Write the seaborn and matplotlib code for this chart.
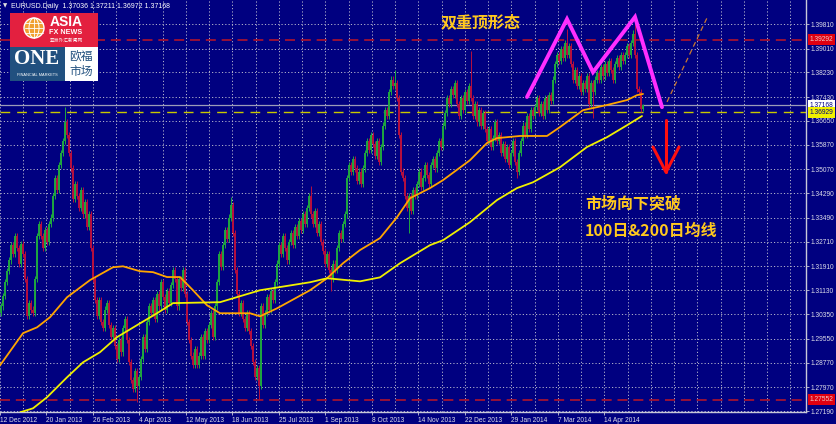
import numpy as np
import pandas as pd
import matplotlib
matplotlib.use("Agg")
import matplotlib.pyplot as plt
import seaborn as sns
from matplotlib.patches import Rectangle, Ellipse

# ---------------- data ----------------
closes = [
    1.3060, 1.3095, 1.3140, 1.3175,
    1.3210, 1.3260, 1.3230, 1.3290, 1.3250, 1.3200, 1.3265, 1.3230,
    1.3150, 1.3030, 1.3070, 1.3050, 1.3040,
    1.3150, 1.3290, 1.3330, 1.3290, 1.3250, 1.3310, 1.3270, 1.3330, 1.3350,
    1.3420, 1.3480, 1.3440, 1.3520, 1.3560, 1.3600, 1.3660,
    1.3620, 1.3560, 1.3510, 1.3410, 1.3460,
    1.3420, 1.3380, 1.3440, 1.3360, 1.3400, 1.3320, 1.3360,
    1.3250, 1.3150, 1.3080,
    1.3030, 1.3080, 1.3010, 1.2990, 1.3050, 1.3070, 1.3000, 1.2960, 1.2990,
    1.2930, 1.2890, 1.2950, 1.2910, 1.2990, 1.3020, 1.2950,
    1.2880, 1.2820, 1.2790, 1.2850, 1.2800, 1.2830,
    1.2890, 1.2960, 1.2920, 1.3010, 1.3060, 1.3040, 1.3080,
    1.3020, 1.3100, 1.3060, 1.3140, 1.3090, 1.3050, 1.3110, 1.3070,
    1.3130, 1.3180, 1.3150, 1.3060, 1.3150, 1.3120, 1.3180, 1.3100,
    1.3010, 1.2950, 1.2900, 1.2870, 1.2920, 1.2870, 1.2900,
    1.2960, 1.2900, 1.2980, 1.2950, 1.3000, 1.3040, 1.2960, 1.3060,
    1.3140, 1.3230, 1.3190, 1.3260, 1.3310, 1.3280, 1.3350, 1.3390,
    1.3300, 1.3180, 1.3100, 1.3040, 1.3070,
    1.3020, 1.2990, 1.3040, 1.2980, 1.2930, 1.2880, 1.2830, 1.2860, 1.2800,
    1.3060, 1.3000, 1.3040, 1.3090, 1.3050, 1.3110, 1.3080, 1.3140,
    1.3200, 1.3260, 1.3230, 1.3290, 1.3250, 1.3210, 1.3270, 1.3300, 1.3260, 1.3320,
    1.3290, 1.3340, 1.3310, 1.3360, 1.3330, 1.3380, 1.3420, 1.3360,
    1.3330, 1.3370, 1.3300, 1.3330, 1.3270, 1.3240, 1.3200, 1.3230, 1.3180,
    1.3150, 1.3200, 1.3180, 1.3250, 1.3300, 1.3280, 1.3330, 1.3360,
    1.3480, 1.3520, 1.3500, 1.3540, 1.3510, 1.3470, 1.3500, 1.3460,
    1.3510, 1.3560, 1.3600, 1.3570, 1.3620, 1.3590, 1.3550, 1.3600, 1.3530, 1.3580,
    1.3650, 1.3700, 1.3680, 1.3760, 1.3800, 1.3780, 1.3790,
    1.3740, 1.3620, 1.3500, 1.3480, 1.3420,
    1.3380, 1.3420, 1.3370, 1.3440, 1.3420,
    1.3460, 1.3500, 1.3450, 1.3480, 1.3520, 1.3490, 1.3460, 1.3520, 1.3540, 1.3510,
    1.3560, 1.3600, 1.3580, 1.3650, 1.3690, 1.3740, 1.3720, 1.3770,
    1.3750, 1.3790, 1.3720, 1.3680, 1.3740, 1.3700, 1.3760, 1.3730, 1.3780, 1.3740,
    1.3680, 1.3720, 1.3660, 1.3700, 1.3650, 1.3690, 1.3640,
    1.3600, 1.3640, 1.3580, 1.3610, 1.3660, 1.3600,
    1.3620, 1.3560, 1.3590, 1.3540, 1.3580, 1.3520, 1.3560, 1.3600, 1.3530, 1.3500,
    1.3560, 1.3600, 1.3650, 1.3620, 1.3680, 1.3640, 1.3700,
    1.3680, 1.3710, 1.3740, 1.3690, 1.3720, 1.3680, 1.3740, 1.3700, 1.3750, 1.3730,
    1.3800, 1.3850, 1.3880, 1.3860, 1.3900, 1.3870, 1.3920, 1.3880, 1.3910,
    1.3850, 1.3800, 1.3830, 1.3780, 1.3810, 1.3760, 1.3790,
    1.3770, 1.3810, 1.3720, 1.3790, 1.3760, 1.3800, 1.3820,
    1.3800, 1.3840, 1.3810, 1.3850, 1.3820, 1.3860, 1.3830, 1.3800, 1.3850, 1.3870, 1.3840, 1.3880, 1.3860,
    1.3880, 1.3910, 1.3880, 1.3920, 1.3950,
    1.3880, 1.3770, 1.3760, 1.37036, 1.37168,
]
first_open = 1.3040
spike_bars = [32, 68, 115, 129, 155, 165, 197, 204, 235, 258, 283, 296, 317, 321, 321]
spike_prices = [1.3710, 1.2748, 1.3417, 1.2758, 1.3452, 1.3110, 1.3832, 1.3298,
                1.3892, 1.3478, 1.3966, 1.3675, 1.3993, 1.37211, 1.36972]

ma100_bar = [-0.5, 11, 18, 24.5, 33, 44.5, 56, 61, 69.5, 76, 83, 89.5, 96, 103, 109.5,
             124.5, 129.5, 138, 154.5, 163, 171, 179.5, 189.5, 198, 204.5, 214.5, 221,
             234.5, 243, 248, 259.5, 273, 279.5, 291, 303, 313, 318, 321]
ma100_val = [1.2868, 1.2973, 1.2992, 1.3025, 1.3090, 1.3146, 1.3188, 1.3191, 1.3175,
             1.3172, 1.3156, 1.3156, 1.3113, 1.3064, 1.3038, 1.3038, 1.3028, 1.3054,
             1.3113, 1.3152, 1.3201, 1.3244, 1.3283, 1.3351, 1.3413, 1.3446, 1.3472,
             1.3537, 1.3593, 1.3609, 1.3616, 1.3616, 1.3645, 1.3700, 1.3717, 1.3733,
             1.3749, 1.3753]
ma200_bar = [9.5, 16, 23, 33, 41, 49.5, 58, 69.5, 78, 86, 109.5, 129.5, 154.5, 163,
             179.5, 189.5, 199.5, 214.5, 221, 234.5, 248, 258, 266, 279.5, 293, 303,
             313, 320.5]
ma200_val = [1.2715, 1.2728, 1.2764, 1.2829, 1.2878, 1.2911, 1.2960, 1.3005, 1.3038,
             1.3071, 1.3074, 1.3113, 1.3139, 1.3152, 1.3142, 1.3155, 1.3201, 1.3260,
             1.3276, 1.3335, 1.3407, 1.3446, 1.3465, 1.3514, 1.3580, 1.3612, 1.3651,
             1.3681]

date_labels = ["12 Dec 2012", "20 Jan 2013", "26 Feb 2013", "4 Apr 2013", "12 May 2013",
               "18 Jun 2013", "25 Jul 2013", "1 Sep 2013", "8 Oct 2013", "14 Nov 2013",
               "22 Dec 2013", "29 Jan 2014", "7 Mar 2014", "14 Apr 2014"]
price_ticks = [1.39810, 1.39010, 1.38230, 1.37430, 1.36650, 1.35870, 1.35070, 1.34290,
               1.33490, 1.32710, 1.31910, 1.31130, 1.30350, 1.29550, 1.28770, 1.27970,
               1.27190]
resist_level = 1.39292
support_level = 1.27552
bid_level = 1.37168
ma_level = 1.36929

w_bar = [263, 283, 296, 317, 330.5]
w_price = [1.3743, 1.3997, 1.3824, 1.4004, 1.3710]
proj_bar = [333, 353]
proj_price = [1.3727, 1.4001]
arrow_bar = 332.5
arrow_from, arrow_to = 1.3668, 1.3498

title_text = "EURUSD.Daily  1.37036 1.37211 1.36972 1.37168"
note_top = "双重顶形态"
note_1 = "市场向下突破"
note_2 = "100日&200日均线"

# ---------------- build OHLC ----------------
n = len(closes)
opens = [first_open] + closes[:-1]
df = pd.DataFrame({"bar": np.arange(n), "open": opens, "close": closes})
wick = 0.0010
df["high"] = df[["open", "close"]].max(axis=1) + wick
df["low"] = df[["open", "close"]].min(axis=1) - wick
for b, p in zip(spike_bars, spike_prices):
    top = max(df.at[b, "open"], df.at[b, "close"])
    if p > top:
        df.at[b, "high"] = p
    else:
        df.at[b, "low"] = p
df["bull"] = df["close"] >= df["open"]

# ---------------- style ----------------
NAVY = "#000080"
sns.set_theme(style="dark")
plt.rcParams["font.family"] = ["Liberation Sans", "DejaVu Sans"]
CJK = ["Noto Sans CJK SC", "DejaVu Sans"]

fig = plt.figure(figsize=(8.37, 4.24), dpi=100, facecolor=NAVY)
W, H = 837.0, 424.0
ax = fig.add_axes([0, 12 / H, 806 / W, 412 / H])
ax.set_facecolor(NAVY)

XL = (-0.5, 402.5)
YL = (1.27160, 1.40593)
ax.set_xlim(*XL)
ax.set_ylim(*YL)

# grid
grid_kw = dict(color="#B4B4CC", lw=0.7, ls=(0, (1.2, 2.2)), zorder=0)
step = 11.625
for k in range(0, 35):
    ax.axvline(-0.5 + step * k, **grid_kw)
for t in price_ticks:
    ax.axhline(t, **grid_kw)

# level lines
ax.axhline(resist_level, color="#B0142C", lw=1.2, ls=(0, (6, 3.5)), zorder=1)
ax.axhline(support_level, color="#B0142C", lw=1.2, ls=(0, (6, 3.5)), zorder=1)
ax.axhline(ma_level, color="#C8C800", lw=1.0, ls=(0, (7, 5)), zorder=1)
ax.axhline(bid_level, color="#9C9CB8", lw=0.9, zorder=1)

# candles
bull = df[df["bull"]]
bear = df[~df["bull"]]
GREEN, RED = "#1FA840", "#B8103E"
ax.vlines(bull["bar"], bull["low"], bull["high"], color=GREEN, lw=0.7, zorder=2)
ax.vlines(bull["bar"], bull["open"], bull["close"], color=GREEN, lw=1.4, zorder=2)
ax.vlines(bear["bar"], bear["low"], bear["high"], color=RED, lw=0.7, zorder=2)
ax.vlines(bear["bar"], bear["close"], bear["open"], color=RED, lw=1.4, zorder=2)

# moving averages
sns.lineplot(x=ma100_bar, y=ma100_val, ax=ax, color="#FFA500", lw=1.3, zorder=3,
             sort=False, estimator=None)
sns.lineplot(x=ma200_bar, y=ma200_val, ax=ax, color="#F0F000", lw=1.3, zorder=3,
             sort=False, estimator=None)

# annotations
ax.plot(w_bar, w_price, color="#FF2EFF", lw=2.8, zorder=4, solid_joinstyle="miter")
ax.plot(proj_bar, proj_price, color="#C87830", lw=0.9, ls=(0, (4, 3)), zorder=4)
ax.plot([arrow_bar, arrow_bar], [arrow_from, arrow_to], color="#FF1010", lw=2.2, zorder=4)
ax.plot([arrow_bar - 6.5, arrow_bar, arrow_bar + 6.5],
        [arrow_to + 0.0082, arrow_to, arrow_to + 0.0082], color="#FF1010", lw=2.2, zorder=4)

gold = "#FFC81E"
ax.text(240, 1.3988, note_top, color=gold, fontsize=11.5, fontweight="bold",
        family=CJK, ha="center", va="center", zorder=5)
ax.text(292, 1.3397, note_1, color=gold, fontsize=11.5, fontweight="bold",
        family=CJK, ha="left", va="center", zorder=5)
ax.text(292, 1.3306, note_2, color=gold, fontsize=11.5, fontweight="bold",
        family=CJK, ha="left", va="center", zorder=5)

# axes, ticks
for s in ["left", "top"]:
    ax.spines[s].set_visible(False)
for s in ["right", "bottom"]:
    ax.spines[s].set_visible(True)
    ax.spines[s].set_color("#C8C8D8")
    ax.spines[s].set_linewidth(1.0)
ax.yaxis.tick_right()
ax.set_yticks(price_ticks)
ax.set_yticklabels([f"{t:.5f}" for t in price_ticks])
ax.tick_params(axis="y", right=True, length=2, width=0.6, color="#C8C8D8",
               labelsize=4.8, labelcolor="#DCDCE8", pad=1)
xt = [-0.5 + 2 * step * k for k in range(len(date_labels))]
ax.set_xticks(xt)
ax.set_xticklabels(date_labels, ha="left")
ax.tick_params(axis="x", bottom=True, length=2, width=0.6, color="#C8C8D8",
               labelsize=4.8, labelcolor="#DCDCE8", pad=1.5)
ax.grid(False)

# price boxes on the right axis
def price_box(val, fc, tc):
    ax.annotate(f"{val:.5f}", xy=(1.0, val), xycoords=("axes fraction", "data"),
                xytext=(2.6, 0), textcoords="offset points", fontsize=4.8, color=tc,
                va="center", ha="left", annotation_clip=False, zorder=6,
                bbox=dict(boxstyle="square,pad=0.3", fc=fc, ec="none"))

price_box(resist_level, "#E00010", "#F0C8C8")
price_box(bid_level, "#FFFFFF", NAVY)
price_box(ma_level, "#F0F000", NAVY)
price_box(support_level, "#E00010", "#F0C8C8")

# ---------------- header & logo (figure pixels) ----------------
def fx(px):
    return px / W

def fy(py):
    return 1 - py / H

fig.text(fx(3), fy(6), "▼", fontsize=4, color="#E0E0E0", va="center", ha="left",
         family=["DejaVu Sans"])
fig.text(fx(11), fy(6), title_text, fontsize=5, color="#FFFFFF", va="center", ha="left")

fig.patches.append(Rectangle((fx(10), fy(47)), fx(88), 34 / H, transform=fig.transFigure,
                             fc="#E3203F", ec="none", zorder=10))
fig.patches.append(Rectangle((fx(10), fy(81)), fx(55), 34 / H, transform=fig.transFigure,
                             fc="#21507F", ec="none", zorder=10))
fig.patches.append(Rectangle((fx(65), fy(81)), fx(33), 34 / H, transform=fig.transFigure,
                             fc="#FFFFFF", ec="none", zorder=10))
# globe
gx, gy, gr = 34, 28, 10
fig.patches.append(Ellipse((fx(gx), fy(gy)), 2 * gr / W, 2 * gr / H, transform=fig.transFigure,
                           fc="#F0A030", ec="#FFFFFF", lw=1.0, zorder=11))
fig.patches.append(Ellipse((fx(gx), fy(gy)), gr / W, 2 * gr / H, transform=fig.transFigure,
                           fc="none", ec="#FFFFFF", lw=0.7, zorder=12))
for dy in (-5, 0, 5):
    fig.lines.append(plt.Line2D([fx(gx - gr + 1), fx(gx + gr - 1)], [fy(gy + dy), fy(gy + dy)],
                                transform=fig.transFigure, color="#FFFFFF", lw=0.6, zorder=12))
fig.lines.append(plt.Line2D([fx(gx), fx(gx)], [fy(gy - gr), fy(gy + gr)],
                            transform=fig.transFigure, color="#FFFFFF", lw=0.6, zorder=12))

fig.text(fx(66), fy(22), "ASIA", fontsize=10, fontweight="bold", color="white",
         ha="center", va="center", zorder=13)
fig.text(fx(66), fy(32.5), "FX NEWS", fontsize=5.2, fontweight="bold", color="white",
         ha="center", va="center", zorder=13)
fig.text(fx(66), fy(40.5), "亚洲外汇新闻网", fontsize=3.4, color="white",
         ha="center", va="center", family=CJK, zorder=13)
fig.text(fx(37), fy(59), "ONE", fontsize=15, fontweight="bold", color="white",
         ha="center", va="center", family=["Liberation Serif", "DejaVu Serif"], zorder=13)
fig.text(fx(37), fy(75), "FINANCIAL MARKETS", fontsize=2.8, color="white",
         ha="center", va="center", zorder=13)
fig.text(fx(81), fy(57), "欧福", fontsize=8.5, color="#21507F",
         ha="center", va="center", family=CJK, zorder=13)
fig.text(fx(81), fy(71), "市场", fontsize=8.5, color="#21507F",
         ha="center", va="center", family=CJK, zorder=13)

fig.savefig("out.png", dpi=100, facecolor=NAVY)
